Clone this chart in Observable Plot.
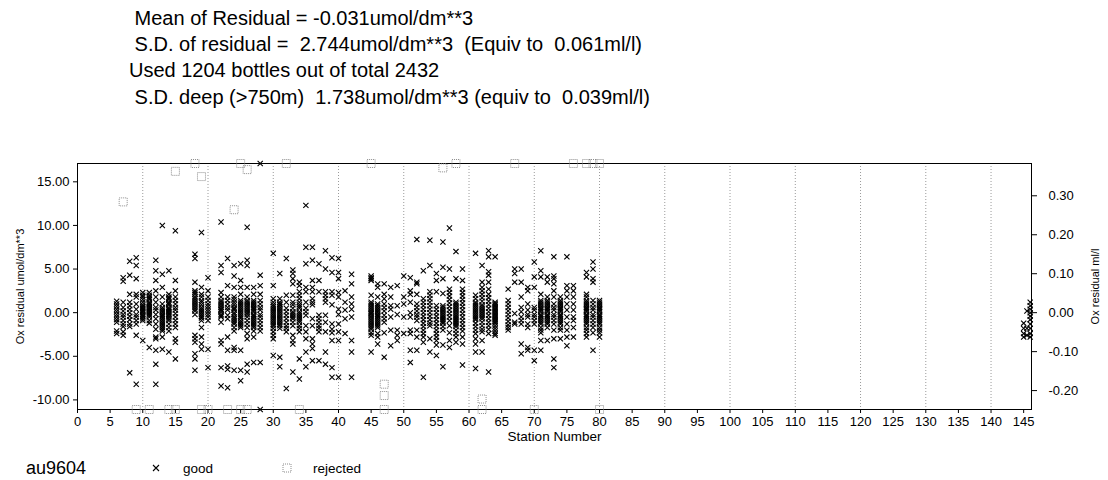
<!DOCTYPE html>
<html>
<head>
<meta charset="utf-8">
<script src="https://cdn.jsdelivr.net/npm/d3@7"></script>
<script src="https://cdn.jsdelivr.net/npm/@observablehq/plot@0.6"></script>
<style>
  body { margin: 0; background: #fff; font-family: "Liberation Sans", Arial, sans-serif; color: #000; }
  #wrap { position: relative; width: 1108px; height: 480px; overflow: hidden; }
  .hdr { position: absolute; left: 129px; font-size: 20px; line-height: 22px; white-space: pre; }
  #chart { position: absolute; left: 0; top: 125px; }
  .leg { position: absolute; white-space: pre; line-height: 18px; }
</style>
</head>
<body>
<div id="wrap">
  <div class="hdr" style="top:7px"> Mean of Residual = -0.031umol/dm**3</div>
  <div class="hdr" style="top:33px"> S.D. of residual =  2.744umol/dm**3  (Equiv to  0.061ml/l)</div>
  <div class="hdr" style="top:59px">Used 1204 bottles out of total 2432</div>
  <div class="hdr" style="top:86px"> S.D. deep (&gt;750m)  1.738umol/dm**3 (equiv to  0.039ml/l)</div>
  <div id="chart"></div>
  <div class="leg" style="left:26px;top:459px;font-size:18px;">au9604</div>
  <svg class="leg" style="left:150px;top:462px" width="12" height="12"><path d="M3,3L9,9M9,3L3,9" stroke="#000" stroke-width="1.1"/></svg>
  <div class="leg" style="left:183px;top:460px;font-size:13.5px;">good</div>
  <svg class="leg" style="left:281px;top:462px" width="12" height="12"><rect x="2" y="2" width="8" height="8" fill="none" stroke="#8c8c8c" stroke-dasharray="1,1"/></svg>
  <div class="leg" style="left:313px;top:460px;font-size:13.5px;">rejected</div>
</div>
<script>
// ---- data ----
const ML_TO_UMOL = 44.66;
const xTicks = d3.range(0, 146, 5);
const gridStations = d3.range(10, 141, 10);
const yTicks = [-10, -5, 0, 5, 10, 15];
const mlTicks = [-0.2, -0.1, 0, 0.1, 0.2, 0.3];

const goodStations = [6, 7, 8, 9, 10, 11, 12, 13, 14, 15, 18, 19, 20, 22, 23, 24, 25, 26, 27, 28,
  30, 31, 32, 33, 34, 35, 36, 37, 38, 39, 40, 41, 42, 45, 46, 47, 48, 49, 50, 51, 52, 53, 54, 55,
  56, 57, 58, 59, 61, 62, 63, 64, 66, 67, 68, 69, 70, 71, 72, 73, 74, 75, 76, 78, 79, 80,
  145, 145.5, 146];
const goodResiduals = [
  [1.3, 1.0, 0.7, 0.4, 0.1, -0.2, -0.5, -0.8, -1.1, -2.1, -2.4],
  [4.0, 3.6, 1.2, 0.6, 0.2, -0.2, -0.5, -0.9, -1.3, -1.6, -2.2, -2.6],
  [5.9, 4.3, 2.1, 1.2, 0.8, 0.4, 0.0, -0.4, -0.8, -1.3, -1.6, -6.9],
  [6.3, 5.4, 3.9, 2.1, 1.8, 1.0, 0.4, -0.2, -0.5, -0.9, -1.3, -2.6, -8.2],
  [2.3, 2.0, 1.8, 1.5, 1.2, 0.9, 0.75, 0.6, 0.45, 0.3, 0.15, 0.0, -0.2, -0.35, -0.5, -0.7, -0.9, -3.2],
  [2.3, 2.0, 1.8, 1.65, 1.5, 1.2, 1.05, 0.9, 0.75, 0.6, 0.45, 0.3, 0.15, 0.0, -0.15, -0.3, -0.5, -0.9, -1.2, -4.0],
  [6.0, 4.8, 3.7, 2.5, 1.8, 1.2, 0.6, 0.3, -0.2, -0.7, -1.3, -1.9, -2.8, -3.0, -4.3, -5.9, -8.2],
  [10.0, 4.4, 2.9, 1.8, 1.0, 0.6, 0.4, 0.2, 0.0, -0.2, -0.35, -0.5, -0.7, -0.9, -1.1, -1.3, -1.5, -1.7, -1.9, -2.1, -2.8, -4.2],
  [4.8, 2.1, 1.8, 1.65, 1.5, 1.2, 1.05, 0.9, 0.6, 0.45, 0.3, 0.15, 0.0, -0.15, -0.3, -0.5, -0.7, -0.9, -1.3, -1.7, -2.1, -4.5],
  [9.4, 3.7, 2.5, 1.8, 1.4, 1.0, 0.6, 0.3, -0.1, -0.5, -0.9, -1.3, -1.7, -3.0, -3.4, -5.3],
  [6.7, 6.2, 3.5, 2.5, 2.3, 2.1, 1.8, 1.6, 1.4, 1.2, 1.0, 0.8, 0.6, 0.4, 0.2, -0.2, -2.6, -3.0, -3.4, -4.7, -5.3, -6.6],
  [9.2, 2.9, 2.1, 1.8, 1.4, 1.2, 0.9, 0.6, 0.4, 0.2, 0.0, -0.2, -0.4, -0.6, -0.9, -1.7, -2.8, -3.6, -4.2],
  [4.0, 2.5, 1.8, 1.4, 1.0, 0.7, 0.4, 0.1, -0.2, -0.5, -0.9, -4.2, -6.3],
  [10.4, 5.4, 4.6, 2.3, 1.8, 1.4, 1.2, 1.0, 0.8, 0.6, 0.4, 0.3, 0.1, -0.2, -0.35, -0.5, -1.1, -3.2, -3.6, -6.3, -8.4],
  [6.2, 3.1, 1.8, 1.4, 1.0, 0.6, 0.3, -0.3, -0.7, -2.8, -4.3, -6.1, -6.5, -8.6],
  [5.4, 4.2, 2.9, 1.8, 1.5, 1.2, 0.9, 0.6, 0.45, 0.3, 0.0, -0.2, -0.5, -0.7, -0.9, -1.1, -1.3, -1.7, -2.1, -4.0, -4.3, -6.6],
  [5.6, 3.7, 2.9, 2.1, 1.4, 1.2, 1.0, 0.8, 0.6, 0.4, 0.2, 0.0, -0.2, -0.4, -0.6, -0.9, -1.1, -1.3, -1.5, -1.7, -4.3, -6.6, -7.8],
  [9.8, 6.0, 5.4, 2.9, 1.8, 1.4, 1.2, 1.0, 0.8, 0.6, 0.4, 0.2, 0.0, -0.2, -0.5, -0.9, -1.3, -1.7, -2.4, -3.0, -5.9, -6.8],
  [2.9, 2.1, 1.4, 1.2, 1.0, 0.8, 0.6, 0.45, 0.3, 0.1, -0.2, -0.35, -0.5, -0.7, -0.9, -1.1, -1.3, -1.5, -1.7, -2.1, -2.8, -5.7],
  [17.1, 4.3, 3.1, 2.1, 1.4, 1.0, 0.6, 0.3, -0.2, -0.5, -0.9, -1.3, -1.7, -2.1, -5.7, -11.1],
  [6.8, 3.1, 1.6, 1.2, 0.9, 0.7, 0.5, 0.3, 0.1, -0.1, -0.3, -0.5, -0.7, -0.9, -1.1, -1.3, -1.5, -1.8, -2.2, -2.6, -3.0, -4.9],
  [4.5, 1.6, 1.2, 1.0, 0.9, 0.7, 0.5, 0.3, 0.1, -0.1, -0.3, -0.5, -0.7, -0.9, -1.1, -1.3, -1.5, -1.8, -5.1, -6.2],
  [6.2, 2.0, 1.2, 0.5, 0.1, -0.3, -0.7, -1.1, -1.5, -1.8, -2.2, -8.7],
  [4.9, 4.5, 3.9, 3.3, 2.0, 1.2, 0.9, 0.5, 0.1, -0.1, -0.3, -0.5, -0.7, -1.1, -1.5, -2.6, -3.2, -3.6, -6.8],
  [3.5, 3.1, 2.4, 2.0, 1.6, 1.2, 0.9, 0.7, 0.5, 0.1, -0.1, -0.3, -0.5, -0.7, -0.9, -1.1, -1.5, -1.8, -2.2, -5.3, -7.6],
  [12.3, 7.5, 5.6, 2.9, 2.4, 1.2, 0.5, 0.1, -0.3, -1.5, -2.2, -3.0, -4.5, -6.2],
  [7.5, 6.0, 3.7, 2.9, 2.4, 1.6, 1.2, 0.9, -0.7, -1.5, -3.0, -3.6, -4.1, -5.5],
  [5.6, 3.7, 2.4, -0.3, -0.7, -1.1, -1.5, -1.8, -2.2, -5.5],
  [7.1, 5.0, 2.4, 2.0, 1.6, 1.2, -0.3, -1.1, -2.2, -4.5, -5.9],
  [6.3, 4.6, 2.4, 2.0, 0.9, -1.3, -1.9, -2.3, -3.2, -6.3, -7.4],
  [6.2, 4.6, 3.9, 2.3, 1.8, 0.4, -0.2, -1.3, -2.2, -3.2, -7.4],
  [2.5, 1.2, 0.3, -0.7, -2.4],
  [4.4, 3.3, 1.8, 1.0, 0.4, -0.5, -3.2, -4.5, -7.4],
  [4.2, 4.0, 3.9, 3.7, 2.0, 1.2, 1.0, 0.8, 0.6, 0.4, 0.2, 0.0, -0.1, -0.3, -0.5, -0.7, -0.9, -1.1, -1.3, -1.5, -1.7, -1.9, -2.3, -2.6, -4.5],
  [3.3, 2.9, 1.8, 1.0, 0.8, 0.6, 0.4, 0.2, 0.0, -0.2, -0.35, -0.5, -0.7, -0.9, -1.1, -1.3, -1.5, -1.7, -2.4, -2.8, -3.6],
  [3.3, 2.1, 1.6, 1.0, 0.6, 0.2, -0.3, -0.7, -1.1, -2.3, -5.1],
  [2.9, 1.8, 0.8, 0.4, -0.5, -2.0, -3.8],
  [3.1, 0.8, -0.2, -2.0, -2.6, -3.2],
  [4.2, 1.8, 1.0, -0.5, -2.4],
  [4.0, 2.5, 2.1, 1.2, 0.0, -0.5, -2.0, -2.4, -4.3, -5.7],
  [8.4, 3.5, 3.3, 2.1, 1.0, 0.6, 0.2, -0.2, -0.5, -0.9, -2.0, -2.8, -4.3],
  [4.8, 1.6, 1.2, 0.8, 0.4, 0.0, -0.4, -0.8, -1.2, -1.6, -2.0, -2.4, -2.8, -3.4, -7.4],
  [8.3, 5.4, 2.4, 2.0, 1.6, 1.2, 0.8, 0.4, 0.0, -0.4, -0.8, -1.2, -1.5, -3.0, -4.5],
  [4.5, 3.7, 2.4, 0.8, 0.4, 0.0, -0.4, -0.8, -1.2, -1.6, -2.0, -2.4, -2.8, -3.2, -3.7, -4.9],
  [8.1, 5.2, 3.9, 2.2, 0.8, 0.6, 0.4, 0.2, 0.0, -0.2, -0.4, -0.6, -0.8, -1.0, -1.2, -1.6, -2.0, -3.7, -6.2],
  [9.7, 5.0, 2.7, 2.3, 1.9, 1.5, 1.1, 0.7, 0.3, -0.1, -0.5, -0.9, -1.5, -2.3, -3.2, -4.0],
  [7.0, 3.9, 1.2, 1.0, 0.8, 0.6, 0.4, 0.2, 0.0, -0.2, -0.4, -0.6, -0.8, -1.0, -1.2, -1.4, -1.6, -2.0, -2.4, -2.8, -3.4],
  [5.0, 3.7, 2.7, 2.3, 1.9, 1.5, 1.1, 0.7, 0.3, -0.1, -0.5, -0.9, -1.3, -1.7, -2.1, -2.8, -3.6, -6.0],
  [6.8, 2.0, 1.6, 1.2, 1.0, 0.8, 0.6, 0.4, 0.2, 0.0, -0.2, -0.4, -0.6, -0.8, -1.2, -1.6, -2.0, -2.4, -3.0, -3.6, -4.5, -6.4],
  [5.4, 3.5, 2.9, 2.5, 2.1, 1.7, 1.3, 0.9, 0.7, 0.5, 0.3, 0.1, -0.1, -0.3, -0.5, -0.7, -1.1, -1.5, -1.9, -2.2, -3.2, -4.5],
  [7.1, 6.4, 4.7, 4.3, 3.5, 2.7, 2.1, 1.7, 1.3, 0.9, 0.5, 0.1, -0.3, -0.7, -1.1, -1.5, -1.9, -2.4, -6.8],
  [6.4, 1.2, 1.05, 0.9, 0.75, 0.6, 0.45, 0.3, 0.15, 0.0, -0.15, -0.3, -0.45, -0.6, -0.75, -0.9, -1.05, -1.2, -1.5, -1.8, -2.1, -2.4, -2.6],
  [2.7, 1.4, 1.0, 0.6, 0.2, -0.2, -0.6, -1.0, -1.4, -1.7, -2.0],
  [5.0, 4.5, 3.5, -0.1, -1.1, -1.3],
  [5.0, 3.5, 1.8, 0.6, 0.1, -0.5, -0.9, -1.3, -3.6, -4.7],
  [2.9, 2.5, 1.0, 0.3, -0.2, -0.5, -1.3, -1.7, -4.0, -4.3],
  [5.8, 4.1, 2.9, 0.6, 0.3, -0.2, -0.5, -0.9, -1.3, -4.3, -5.5],
  [7.1, 4.8, 4.1, 2.1, 1.4, 1.2, 1.0, 0.8, 0.6, 0.45, 0.3, 0.1, -0.2, -0.35, -0.5, -0.7, -0.9, -1.1, -1.3, -1.7, -2.0, -2.3, -3.2, -4.3],
  [4.1, 3.5, 1.8, 1.4, 1.2, 1.0, 0.8, 0.6, 0.45, 0.3, 0.1, -0.2, -0.35, -0.5, -0.7, -0.9, -1.1, -1.3, -1.7, -3.2],
  [6.4, 4.2, 3.9, 3.3, 2.5, 1.8, 1.0, 0.6, 0.3, -0.2, -0.5, -0.9, -1.3, -2.0, -3.0, -5.3, -6.3],
  [1.8, 1.4, 1.2, 1.0, 0.8, 0.6, 0.45, 0.3, 0.1, -0.2, -0.35, -0.5, -0.7, -0.9, -1.1, -1.3, -1.7, -2.0, -3.0],
  [6.4, 3.1, 2.5, 1.8, 1.0, 0.3, -0.5, -1.3, -2.0, -2.8, -3.8],
  [3.1, 2.5, 1.8, 1.0, 0.3, -0.5, -0.9, -1.7, -2.8],
  [4.6, 4.1, 2.1, 1.8, 1.4, 1.2, 1.0, 0.8, 0.6, 0.45, 0.3, 0.1, -0.2, -0.35, -0.5, -0.7, -0.9, -1.1, -1.3, -1.7, -2.0, -2.4, -2.8],
  [5.8, 5.0, 3.9, 3.5, 1.4, 1.0, 0.6, 0.3, -0.2, -0.5, -0.9, -1.3, -1.7, -2.3, -4.3],
  [1.4, 1.2, 1.0, 0.8, 0.6, 0.45, 0.3, 0.1, -0.2, -0.35, -0.5, -0.7, -0.9, -1.1, -1.3, -1.7, -2.0, -2.3, -2.8],
  [-1.2, -1.8, -2.4, -2.8],
  [0.2, -1.8, -2.6],
  [1.2, 0.8, 0.4, 0.0, -0.4, -0.8, -1.3, -1.8, -2.4, -2.8]
];

const rejectedStations = [7, 15, 18, 19, 24, 25, 26, 32, 45, 56, 58, 67, 76, 78, 79, 80,
  9, 11, 14, 15, 19, 20, 23, 25, 26, 34, 47, 47, 47, 62, 62, 70, 80];
const rejectedResiduals = [12.7, 16.2, 17.1, 15.6, 11.8, 17.1, 16.4, 17.1, 17.1, 16.6, 17.1, 17.1, 17.1, 17.1, 17.1, 17.1,
  -11.1, -11.1, -11.1, -11.1, -11.1, -11.1, -11.1, -11.1, -11.1, -11.1, -8.2, -9.5, -11.1, -9.9, -11.1, -11.1, -11.1];

const good = goodStations.flatMap((s, i) => goodResiduals[i].map(v => ({station: s, residual: v})));
const rejected = rejectedStations.map((s, i) => ({station: s, residual: rejectedResiduals[i]}));

const timesSymbol = {draw(ctx) { const h = 2.6; ctx.moveTo(-h, -h); ctx.lineTo(h, h); ctx.moveTo(h, -h); ctx.lineTo(-h, h); }};
const squareSymbol = {draw(ctx) { const h = 4; ctx.moveTo(-h, -h); ctx.lineTo(h, -h); ctx.lineTo(h, h); ctx.lineTo(-h, h); ctx.closePath(); }};

const chart = Plot.plot({
  width: 1108,
  height: 325,
  marginTop: 38,
  marginBottom: 41,
  marginLeft: 77,
  marginRight: 77,
  style: {fontFamily: "'Liberation Sans', Arial, sans-serif", fontSize: "13px", color: "#000", background: "#fff"},
  x: {domain: [0, 146.2]},
  y: {domain: [-11.1, 17.1]},
  marks: [
    Plot.ruleX(gridStations, {stroke: "#9a9a9a", strokeDasharray: "1,2", strokeWidth: 1}),
    Plot.frame({stroke: "#000"}),
    Plot.axisX({ticks: xTicks, tickSize: 4, tickPadding: 3, tickFormat: d => String(d), label: null}),
    Plot.axisY({anchor: "left", ticks: yTicks, tickSize: 4, tickPadding: 4, tickFormat: d => d.toFixed(2), label: null}),
    Plot.axisY({anchor: "right", ticks: mlTicks.map(m => m * ML_TO_UMOL), tickSize: 5, tickPadding: 12,
      tickFormat: d => (d / ML_TO_UMOL).toFixed(2), label: null}),
    Plot.dot(rejected, {x: "station", y: "residual", symbol: squareSymbol, stroke: "#8c8c8c", strokeDasharray: "1,1", fill: "none", strokeWidth: 1}),
    Plot.dot(good, {x: "station", y: "residual", symbol: timesSymbol, stroke: "#000", strokeWidth: 1.1}),
    Plot.text(["Ox residual umol/dm**3"], {text: d => d, frameAnchor: "left", textAnchor: "middle", dx: -57, rotate: -90, fontSize: 11}),
    Plot.text(["Ox residual ml/l"], {text: d => d, frameAnchor: "right", textAnchor: "middle", dx: 64, rotate: -90, fontSize: 11}),
    Plot.text(["Station Number"], {text: d => d, frameAnchor: "bottom", dy: 31, fontSize: 13.5})
  ]
});
document.getElementById("chart").appendChild(chart);
</script>
</body>
</html>
